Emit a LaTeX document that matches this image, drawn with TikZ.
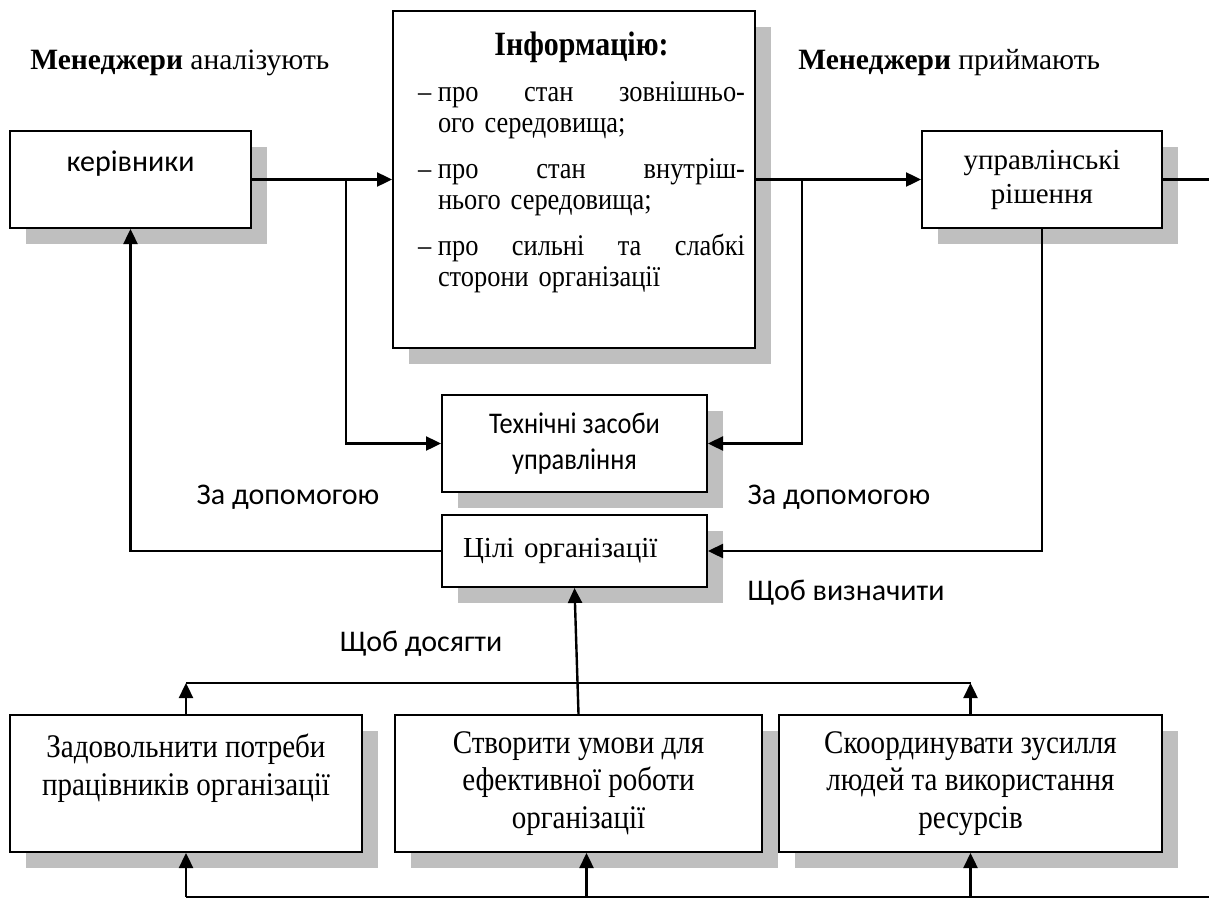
\documentclass[tikz,border=0pt]{standalone}
\usepackage{fontspec}
\setmainfont{Liberation Serif}
\newfontfamily\calibri{Carlito}
\newfontfamily\tallsans[FakeStretch=0.88]{Carlito}
\newfontfamily\tallserif[FakeStretch=0.88]{Liberation Serif}
\usetikzlibrary{shadows,arrows.meta}

\newcommand{\infoitem}[1]{\par\vspace{7.5pt}\hangindent=10pt\hangafter=1\noindent\makebox[10pt][l]{–}#1\par}

\begin{document}
\begin{tikzpicture}[x=0.5pt,y=-0.5pt,
		box/.style={draw=black,line width=1pt,fill=white,drop shadow={shadow xshift=8pt,shadow yshift=-8pt,fill=black!25,opacity=1}},
		serif/.style={font=\fontsize{14.5pt}{17pt}\selectfont},
		tall/.style={font=\tallserif\fontsize{16.5pt}{18.75pt}\selectfont},
		sans/.style={font=\calibri\fontsize{15pt}{18pt}\selectfont},
		lbl/.style={inner sep=0pt},
		link/.style={line width=1.2pt,-{Triangle[length=7.5pt,width=7pt]}},
		bus/.style={line width=0.8pt}]
		\useasboundingbox (0,0) rectangle (1209,899);
		
		\node[lbl,anchor=west,font=\fontsize{14.75pt}{17pt}\selectfont] (mgrL) at (30,63) {\textbf{Менеджери} аналізують};
		\node[lbl,anchor=west,font=\fontsize{14.75pt}{17pt}\selectfont] (mgrR) at (798,63) {\textbf{Менеджери} приймають};
		
		\node[box,sans,align=center,minimum width=120.5pt,minimum height=48.5pt] (lead) at (130.5,179.5) {керівники\\~};
		
		\node[box,minimum width=181pt,minimum height=168.5pt] (info) at (574,179.5) {};
		\node[lbl,text width=163.5pt,anchor=north,font=\tallserif\fontsize{15pt}{15.5pt}\selectfont] (infotext) at (581.5,32) {%
			{\centering\fontsize{17pt}{15.5pt}\selectfont\textbf{Інформацію:}\par}
			\infoitem{про\hfill стан\hfill зовнішньо-\break ого середовища;}
			\infoitem{про\hfill стан\hfill внутріш-\break нього середовища;}
			\infoitem{про\hfill сильні\hfill та\hfill слабкі\break сторони організації}};
		
		\node[box,serif,align=center,minimum width=120pt,minimum height=48.5pt] (decis) at (1042,179.5) {управлінські\\рішення};
		
		\node[box,align=center,font=\tallsans\fontsize{15pt}{18pt}\selectfont,minimum width=132.5pt,minimum height=48.5pt] (tools) at (574.5,443.5) {Технічні засоби\\управління};
		
		\node[box,serif,align=left,text width=111.5pt,inner xsep=10.5pt,minimum height=36pt] (goals) at (574.5,551) {Цілі організації};
		
		\node[box,tall,align=center,minimum width=176pt,minimum height=68.5pt] (needs) at (186,783.5) {Задовольнити потреби\\працівників організації\\~};
		\node[box,tall,align=center,minimum width=183.5pt,minimum height=68.5pt] (conds) at (578.5,783.5) {Створити умови для\\ефективної роботи\\організації};
		\node[box,tall,align=center,minimum width=191.5pt,minimum height=68.5pt] (coord) at (970.5,783.5) {Скоординувати зусилля\\людей та використання\\ресурсів};
		
		\node[sans,lbl] (helpL) at (288,497) {За допомогою};
		\node[sans,lbl] (helpR) at (839,497) {За допомогою};
		\node[sans,lbl] (defn) at (846,593) {Щоб визначити};
		\node[sans,lbl] (reach) at (421,644) {Щоб досягти};
		
		% connectors
		\coordinate (brL) at (346,179.5);
		\coordinate (brR) at (802,179.5);
		\coordinate (outR) at (1209,179.5);
		\coordinate (topbus) at (578,683);
		\coordinate (botbus) at (1209,897);
		
		\draw[link] (lead) -- (info);
		\draw[link] (brL) |- (tools.west);
		\draw[link] (info) -- (decis);
		\draw[link] (brR) |- (tools.east);
		\draw[line width=1.2pt] (decis) -- (outR);
		\draw[link] (decis.south) |- (goals.east);
		\draw[link] (goals.west) -| (lead.south);
		
		\draw[link] (conds.north) -- (goals.south);
		\draw[bus] (needs.north |- topbus) -- (coord.north |- topbus);
		\draw[link] (needs.north) -- (needs.north |- topbus);
		\draw[link] (coord.north) -- (coord.north |- topbus);
		
		\draw[bus] (botbus) -- (needs.south |- botbus);
		\draw[link] (needs.south |- botbus) -- (needs.south);
		\draw[link] ([xshift=4pt]conds.south |- botbus) -- ([xshift=4pt]conds.south);
		\draw[link] (coord.south |- botbus) -- (coord.south);
	\end{tikzpicture}
\end{document}
